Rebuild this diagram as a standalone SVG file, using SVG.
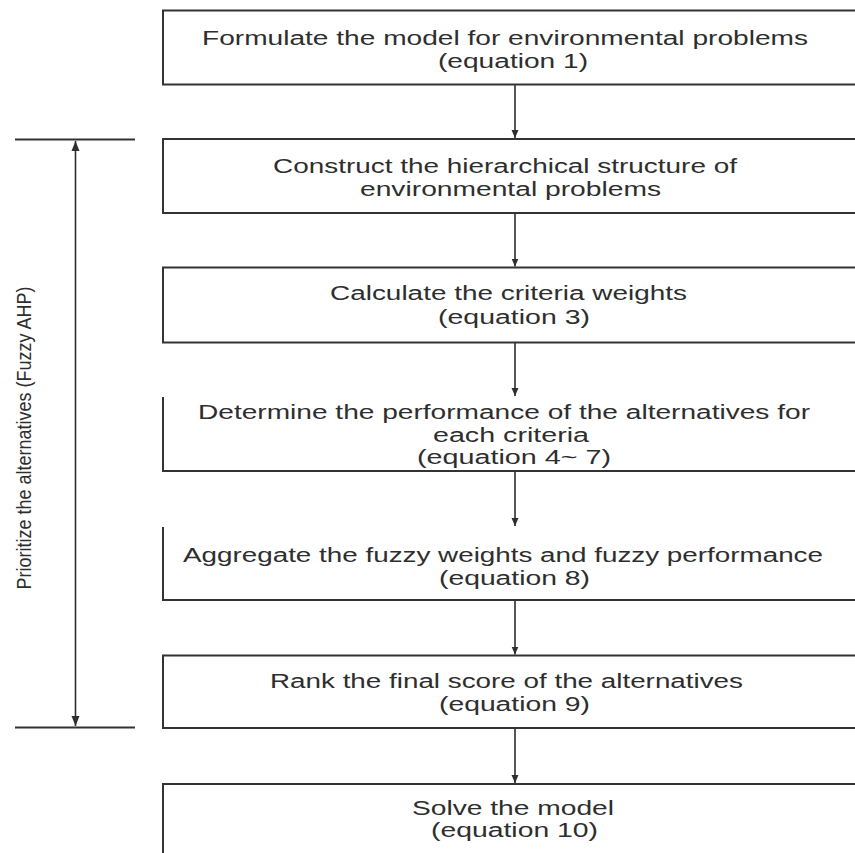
<svg xmlns="http://www.w3.org/2000/svg" width="855" height="853" viewBox="0 0 855 853">
  <style>
    .box { fill: #ffffff; stroke: #333333; stroke-width: 2; }
    .open { fill: none; stroke: #333333; stroke-width: 2; }
    .lbl { font-family: "Liberation Sans", Arial, sans-serif; font-size: 19.5px; fill: #2e2e2e; }
    .conn { stroke: #2e2e2e; stroke-width: 1.6; fill: none; }
    .rule { stroke: #333333; stroke-width: 2; fill: none; }
  </style>
  <defs>
    <marker id="head" markerUnits="userSpaceOnUse" markerWidth="8" markerHeight="8" viewBox="0 0 8 8" refX="8" refY="4" orient="auto">
      <path d="M0,0.5 L8,4 L0,7.5 Z" fill="#2e2e2e"/>
    </marker>
    <marker id="headBig" markerUnits="userSpaceOnUse" markerWidth="10" markerHeight="9" viewBox="0 0 10 9" refX="10" refY="4.5" orient="auto-start-reverse">
      <path d="M0,0.5 L10,4.5 L0,8.5 Z" fill="#2e2e2e"/>
    </marker>
  </defs>
  <rect width="855" height="853" fill="#ffffff"/>

  <!-- process steps -->
  <g id="step-formulate">
    <rect class="box" x="163" y="10.5" width="720" height="74"/>
    <text class="lbl" x="202" y="44.5" textLength="606" lengthAdjust="spacingAndGlyphs">Formulate the model for environmental problems</text>
    <text class="lbl" x="438" y="67.5" textLength="150" lengthAdjust="spacingAndGlyphs">(equation  1)</text>
  </g>

  <g id="step-construct">
    <rect class="box" x="163" y="139" width="720" height="74"/>
    <text class="lbl" x="273" y="172.5" textLength="464" lengthAdjust="spacingAndGlyphs">Construct the hierarchical structure of</text>
    <text class="lbl" x="360" y="195.5" textLength="301" lengthAdjust="spacingAndGlyphs">environmental problems</text>
  </g>

  <g id="step-weights">
    <rect class="box" x="163" y="267.5" width="720" height="75"/>
    <text class="lbl" x="330" y="299.5" textLength="357" lengthAdjust="spacingAndGlyphs">Calculate the criteria weights</text>
    <text class="lbl" x="438" y="324" textLength="152" lengthAdjust="spacingAndGlyphs">(equation  3)</text>
  </g>

  <g id="step-performance">
    <path class="open" d="M163,397 V471 H883"/>
    <text class="lbl" x="198" y="418.5" textLength="612" lengthAdjust="spacingAndGlyphs">Determine the performance of the alternatives for</text>
    <text class="lbl" x="433" y="441.5" textLength="156" lengthAdjust="spacingAndGlyphs">each criteria</text>
    <text class="lbl" x="417" y="463.5" textLength="194" lengthAdjust="spacingAndGlyphs">(equation  4~ 7)</text>
  </g>

  <g id="step-aggregate">
    <path class="open" d="M163,527 V600 H883"/>
    <text class="lbl" x="183" y="561.5" textLength="640" lengthAdjust="spacingAndGlyphs">Aggregate the fuzzy weights and fuzzy performance</text>
    <text class="lbl" x="439" y="584.5" textLength="151" lengthAdjust="spacingAndGlyphs">(equation  8)</text>
  </g>

  <g id="step-rank">
    <rect class="box" x="163" y="655.5" width="720" height="72.5"/>
    <text class="lbl" x="270" y="687.5" textLength="473" lengthAdjust="spacingAndGlyphs">Rank the final score of the alternatives</text>
    <text class="lbl" x="439" y="710.5" textLength="151" lengthAdjust="spacingAndGlyphs">(equation  9)</text>
  </g>

  <g id="step-solve">
    <rect class="box" x="163" y="784" width="720" height="90"/>
    <text class="lbl" x="412" y="814.5" textLength="202" lengthAdjust="spacingAndGlyphs">Solve the model</text>
    <text class="lbl" x="431" y="836.5" textLength="167" lengthAdjust="spacingAndGlyphs">(equation 10)</text>
  </g>

  <!-- span of the fuzzy AHP stage -->
  <g id="fuzzy-ahp-span">
    <line class="rule" x1="15" y1="139.5" x2="135" y2="139.5"/>
    <line class="rule" x1="15" y1="727.5" x2="135" y2="727.5"/>
    <line class="conn" x1="75.5" y1="141" x2="75.5" y2="726" marker-start="url(#headBig)" marker-end="url(#headBig)"/>
    <text class="lbl" transform="translate(31,438) rotate(-90)" text-anchor="middle" style="font-size:21px" textLength="303" lengthAdjust="spacingAndGlyphs">Prioritize the alternatives (Fuzzy AHP)</text>
  </g>

  <!-- connectors between steps -->
  <g id="connectors">
    <line class="conn" x1="515" y1="85" x2="515" y2="138" marker-end="url(#head)"/>
    <line class="conn" x1="515" y1="214" x2="515" y2="266.5" marker-end="url(#head)"/>
    <line class="conn" x1="515" y1="343" x2="515" y2="396" marker-end="url(#head)"/>
    <line class="conn" x1="515" y1="472" x2="515" y2="526" marker-end="url(#head)"/>
    <line class="conn" x1="515" y1="601" x2="515" y2="654.5" marker-end="url(#head)"/>
    <line class="conn" x1="515" y1="729" x2="515" y2="783" marker-end="url(#head)"/>
  </g>
</svg>
